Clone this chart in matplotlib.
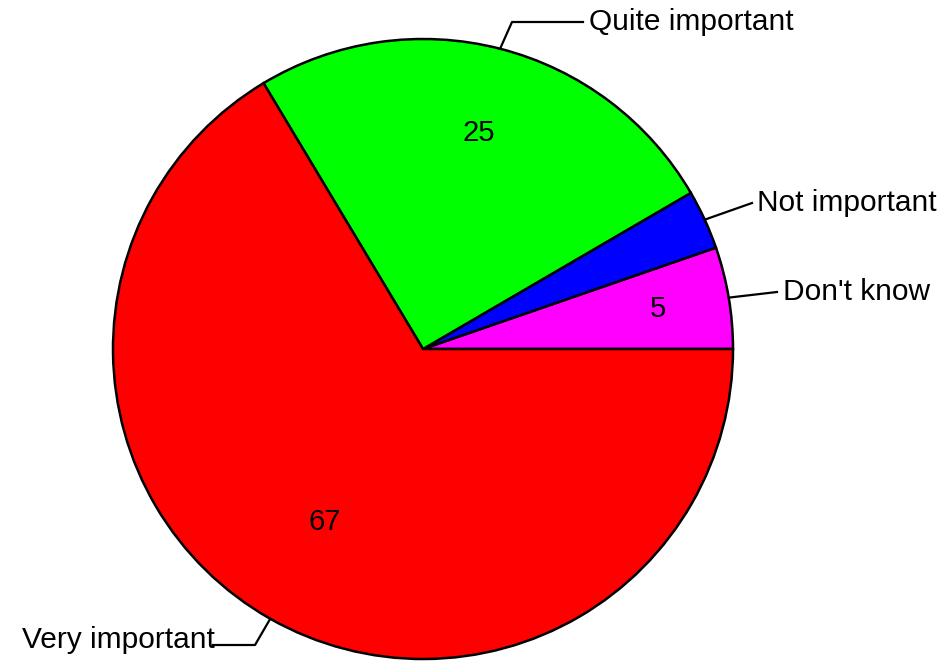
import numpy as np
import matplotlib.pyplot as plt

plt.rcParams['font.family'] = ['Liberation Sans', 'DejaVu Sans']

# data (slice shares in %, counter-clockwise from 3 o'clock)
categories = ["Don't know", "Not important", "Quite important", "Very important"]
shares = [5.3, 3.1, 25.2, 66.4]
value_labels = ["5", "", "25", "67"]
colors = ["#ff00ff", "#0000ff", "#00ff00", "#ff0000"]

W, H = 951, 663
fig = plt.figure(figsize=(W / 100, H / 100), dpi=100)
ax = fig.add_axes([0, 0, 1, 1])

cx, cy, r = 423, H - 349, 310
wedges, _ = ax.pie(shares, colors=colors, startangle=0, counterclock=True,
                   center=(cx, cy), radius=r, frame=True,
                   wedgeprops=dict(edgecolor='black', linewidth=1.8))
ax.set_xlim(0, W)
ax.set_ylim(0, H)
ax.axis('off')

# value labels inside slices (radial fraction is layout only)
val_frac = [0.77, 0.7, 0.72, 0.64]
for w, lab, f in zip(wedges, value_labels, val_frac):
    if not lab:
        continue
    a = np.deg2rad((w.theta1 + w.theta2) / 2)
    ax.text(cx + f * r * np.cos(a), cy + f * r * np.sin(a), lab,
            ha='center', va='center', fontsize=21)

# leader lines: elbow and text end in pixel coords (x, y from top)
elbows = [None, None, (512, 22), (255, 645)]
ends = [(777, 292), (752, 203), (583, 22), (213, 645)]
text_pos = [(783, 292, 'left'), (757, 203, 'left'), (589, 22, 'left'), (215, 640, 'right')]
for w, name, el, en, tp in zip(wedges, categories, elbows, ends, text_pos):
    a = np.deg2rad((w.theta1 + w.theta2) / 2)
    xs = [cx + r * np.cos(a)]
    ys = [cy + r * np.sin(a)]
    if el is not None:
        xs.append(el[0]); ys.append(H - el[1])
    xs.append(en[0]); ys.append(H - en[1])
    ax.plot(xs, ys, color='black', linewidth=1.6)
    ax.text(tp[0], H - tp[1], name, ha=tp[2], va='center', fontsize=21.5)

plt.savefig('out.png', dpi=100)
